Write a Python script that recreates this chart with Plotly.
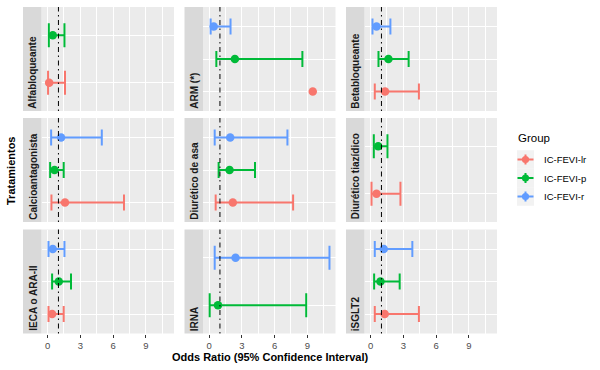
import plotly.graph_objects as go

W, H = 600, 370

# ---------------- data ----------------
treatments = ["Alfabloqueante", "ARM (*)", "Betabloqueante",
              "Calcioantagonista", "Diurético de asa", "Diurético tiazídico",
              "IECA o ARA-II", "IRNA", "iSGLT2"]
groups = ["IC-FEVI-lr", "IC-FEVI-p", "IC-FEVI-r"]
group_colors = ["#F8766D", "#00BA38", "#619CFF"]

or_lr = [0.15, 9.5, 1.33, 1.60, 2.18, 0.55, 0.42, None, 1.30]
lo_lr = [0.05, None, 0.39, 0.36, 0.61, 0.09, 0.09, None, 0.39]
hi_lr = [1.60, None, 4.43, 7.00, 7.70, 2.74, 1.48, None, 4.43]

or_p = [0.48, 2.37, 1.64, 0.64, 1.88, 0.70, 1.03, 0.82, 0.91]
lo_p = [0.12, 0.67, 0.73, 0.24, 0.88, 0.30, 0.42, 0.06, 0.33]
hi_p = [1.55, 8.55, 3.49, 1.48, 4.21, 1.55, 2.15, 8.90, 2.67]

or_r = [None, 0.43, 0.55, 1.24, 1.94, None, 0.48, 2.43, 1.21]
lo_r = [None, 0.15, 0.18, 0.33, 0.52, None, 0.09, 0.52, 0.39]
hi_r = [None, 1.97, 1.82, 4.97, 7.18, None, 1.55, 11.03, 3.83]

x_ticks = [0, 3, 6, 9]
ref_line = 1

series = [(or_lr, lo_lr, hi_lr), (or_p, lo_p, hi_p), (or_r, lo_r, hi_r)]

# ---------------- layout geometry (pixels) ----------------
strip_left = [23, 184.5, 346]
strip_w = 18.5
panel_w = 132.5
row_top = [7, 118, 229.5]
panel_h = 104

def px(x):
    return x / W

def py(y):
    return 1 - y / H

all_lo = [v for s in series for v in s[1] if v is not None]
all_hi = [v for s in series for v in s[2] if v is not None] + \
         [v for s in series for v in s[0] if v is not None]
xmin, xmax = min(all_lo + [0]), max(all_hi)
pad = 0.05 * (xmax - xmin)
xrange = [xmin - pad, xmax + pad]

fig = go.Figure()
layout = dict(
    width=W, height=H,
    margin=dict(l=0, r=0, t=0, b=0),
    paper_bgcolor="white",
    plot_bgcolor="#EBEBEB",
    showlegend=False,
    font=dict(family="Liberation Sans, Arial, sans-serif", color="#1A1A1A"),
)
shapes = []
annotations = []

for i, tname in enumerate(treatments):
    r, c = divmod(i, 3)
    n = i + 1
    xa = "x" if n == 1 else f"x{n}"
    ya = "y" if n == 1 else f"y{n}"
    xkey = "xaxis" if n == 1 else f"xaxis{n}"
    ykey = "yaxis" if n == 1 else f"yaxis{n}"

    pl = strip_left[c] + strip_w
    pr = pl + panel_w
    pt = row_top[r]
    pb = pt + panel_h

    present = [g for g, (o, lo, hi) in zip(groups, series) if o[i] is not None]
    ncat = len(present)

    bottom = (r == 2)
    layout[xkey] = dict(
        domain=[px(pl), px(pr)], anchor=ya, range=xrange,
        tickmode="array", tickvals=x_ticks, ticktext=[str(t) for t in x_ticks],
        showticklabels=bottom, ticks="outside" if bottom else "",
        ticklen=3, tickwidth=1, tickcolor="#333333",
        tickfont=dict(size=9.5, color="#4D4D4D"),
        showgrid=True, gridcolor="white", gridwidth=1.1,
        minor=dict(tickvals=[1.5, 4.5, 7.5, 10.5], showgrid=True,
                   gridcolor="white", gridwidth=0.55, ticks=""),
        zeroline=False, showline=False, fixedrange=True,
    )
    layout[ykey] = dict(
        domain=[py(pb), py(pt)], anchor=xa, type="category",
        categoryorder="array", categoryarray=present,
        range=[-0.6, ncat - 0.4],
        showticklabels=False, ticks="",
        showgrid=True, gridcolor="white", gridwidth=1.1,
        zeroline=False, showline=False, fixedrange=True,
    )

    cap = 8 if ncat == 3 else 12
    for g, col, (o, lo, hi) in zip(groups, group_colors, series):
        if o[i] is None:
            continue
        tr = dict(
            x=[o[i]], y=[g], mode="markers", xaxis=xa, yaxis=ya,
            marker=dict(color=col, size=8.5, line=dict(width=0)),
            hoverinfo="x+y", showlegend=False,
        )
        if lo[i] is not None:
            tr["error_x"] = dict(type="data", symmetric=False,
                                 array=[hi[i] - o[i]], arrayminus=[o[i] - lo[i]],
                                 color=col, thickness=2, width=cap)
        fig.add_trace(go.Scatter(**tr))

    # reference line at OR = 1
    shapes.append(dict(type="line", xref=xa, yref=f"{ya} domain",
                       x0=ref_line, x1=ref_line, y0=0, y1=1,
                       line=dict(color="black", width=1, dash="1.5px,3.5px,5px,3.5px"),
                       layer="above"))
    # strip background
    shapes.append(dict(type="rect", xref="paper", yref="paper",
                       x0=px(strip_left[c]), x1=px(pl), y0=py(pb), y1=py(pt),
                       fillcolor="#D9D9D9", line=dict(width=0), layer="below"))
    annotations.append(dict(text=f"<b>{tname}</b>", xref="paper", yref="paper",
                            x=px(strip_left[c] + strip_w / 2 + 0.5), y=py(pb - 0.5),
                            xanchor="center", yanchor="bottom", textangle=-90,
                            showarrow=False, font=dict(size=10, color="#1A1A1A")))

# axis titles
annotations.append(dict(text="<b>Odds Ratio (95% Confidence Interval)</b>",
                        xref="paper", yref="paper", x=px(270), y=py(357),
                        xanchor="center", yanchor="middle", showarrow=False,
                        font=dict(size=11, color="black")))
annotations.append(dict(text="<b>Tratamientos</b>", xref="paper", yref="paper",
                        x=px(11), y=py(171), xanchor="center", yanchor="middle",
                        textangle=-90, showarrow=False,
                        font=dict(size=11, color="black")))

# legend (drawn manually to mimic ggplot keys)
annotations.append(dict(text="Group", xref="paper", yref="paper",
                        x=px(516), y=py(138), xanchor="left", yanchor="middle",
                        showarrow=False, font=dict(size=11.5, color="black")))
key_x0, key_x1 = 517, 534
key_h = 18.5
key_c0 = 159.5
for k, (g, col) in enumerate(zip(groups, group_colors)):
    cy = key_c0 + k * key_h
    shapes.append(dict(type="rect", xref="paper", yref="paper",
                       x0=px(key_x0), x1=px(key_x1),
                       y0=py(cy + key_h / 2), y1=py(cy - key_h / 2),
                       fillcolor="#F2F2F2", line=dict(width=0), layer="below"))
    shapes.append(dict(type="line", xref="paper", yref="paper",
                       x0=px(key_x0 + 0.5), x1=px(key_x1 - 0.5), y0=py(cy), y1=py(cy),
                       line=dict(color=col, width=2)))
    shapes.append(dict(type="line", xref="paper", yref="paper",
                       x0=px((key_x0 + key_x1) / 2), x1=px((key_x0 + key_x1) / 2),
                       y0=py(cy - 5), y1=py(cy + 5),
                       line=dict(color=col, width=2)))
    shapes.append(dict(type="circle", xref="paper", yref="paper",
                       x0=px((key_x0 + key_x1) / 2 - 3.6), x1=px((key_x0 + key_x1) / 2 + 3.6),
                       y0=py(cy - 3.6), y1=py(cy + 3.6),
                       fillcolor=col, line=dict(width=0)))
    annotations.append(dict(text=g, xref="paper", yref="paper",
                            x=px(542), y=py(cy), xanchor="left", yanchor="middle",
                            showarrow=False, font=dict(size=9.5, color="black")))

layout["shapes"] = shapes
layout["annotations"] = annotations
fig.update_layout(**layout)
fig.write_html("out.html",
               config={"displayModeBar": False, "staticPlot": False},
               post_script="document.body.style.margin='0';document.body.style.overflow='hidden';")
